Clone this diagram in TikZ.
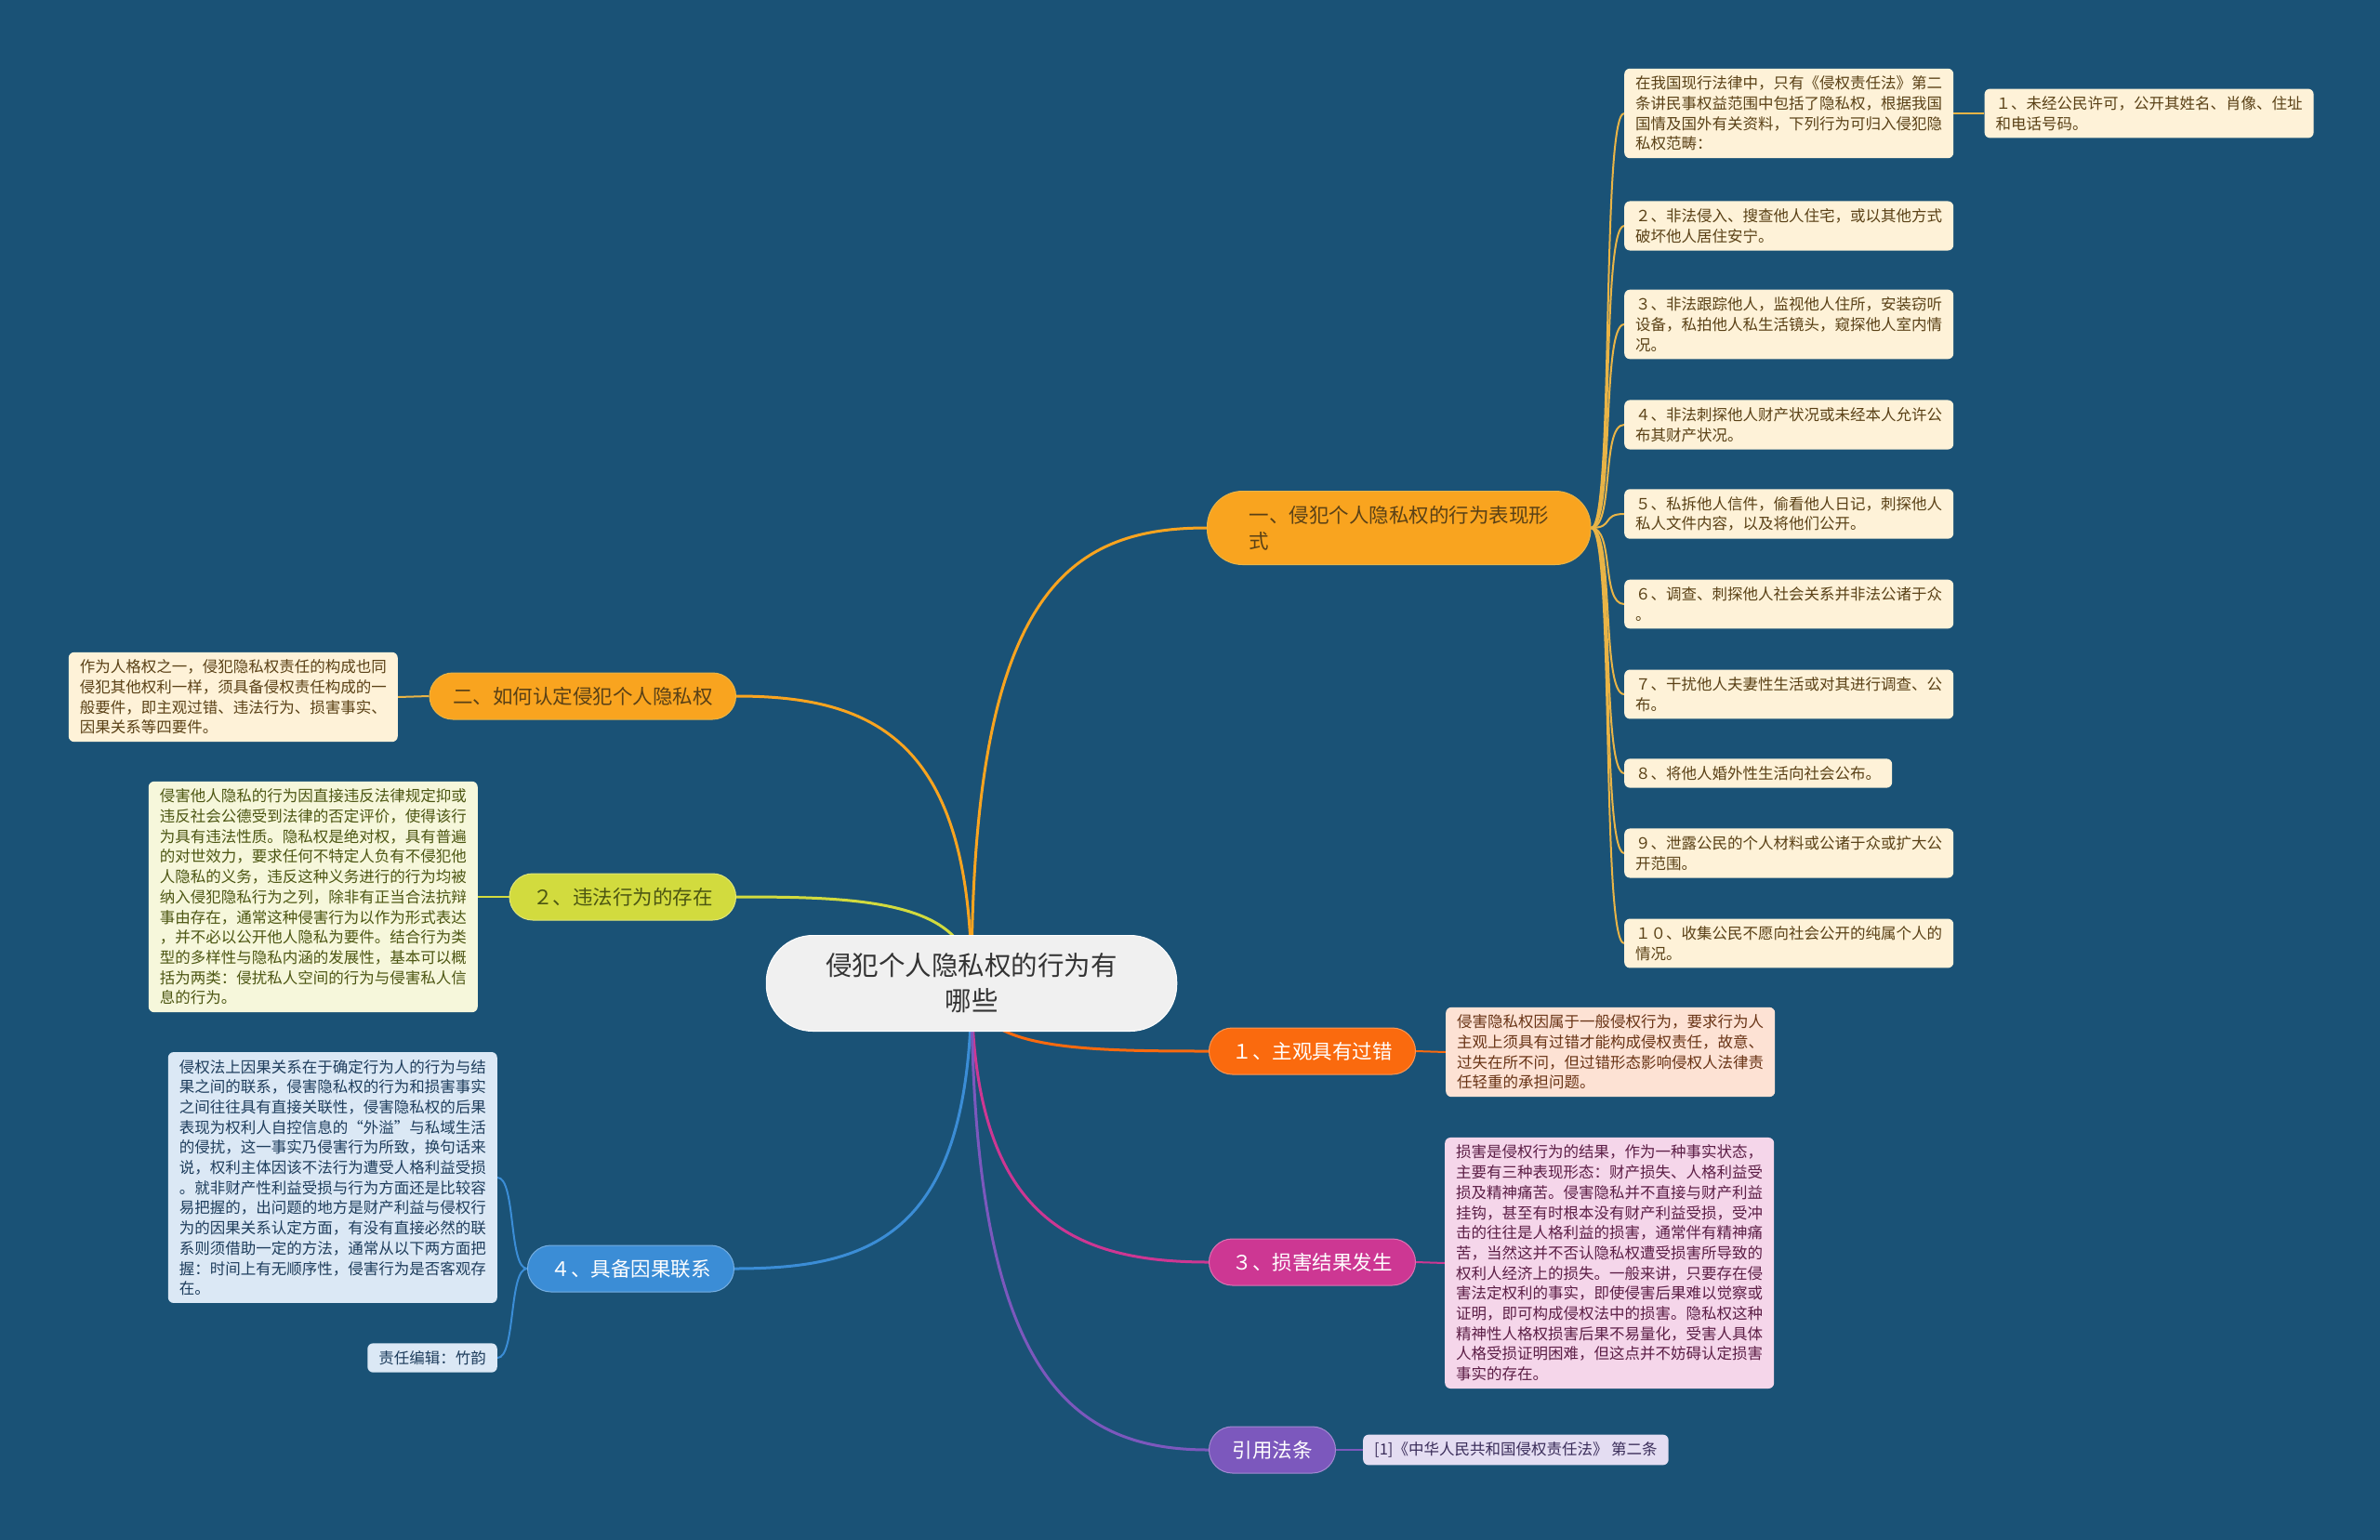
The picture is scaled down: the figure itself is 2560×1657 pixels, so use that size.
\documentclass[tikz,border=0pt]{standalone}
\usepackage{fontspec}
\setmainfont{Noto Sans CJK SC}
\usetikzlibrary{positioning, backgrounds}
\definecolor{NightBlue}{HTML}{1A5276}
\definecolor{Amber}{HTML}{F9A41F}
\definecolor{Gold}{HTML}{E9B446}
\definecolor{Lime}{HTML}{D2DB3E}
\definecolor{Azure}{HTML}{3B8DD6}
\definecolor{Flame}{HTML}{FA6A0E}
\definecolor{Berry}{HTML}{CD3793}
\definecolor{Violet}{HTML}{7C58BD}
\definecolor{Cream}{HTML}{FEF2D8}
\definecolor{Olive}{HTML}{F6F7DB}
\definecolor{Mist}{HTML}{DBE8F5}
\definecolor{Peach}{HTML}{FDE2D4}
\definecolor{Blush}{HTML}{F5D6EA}
\definecolor{Lilac}{HTML}{E4DDF2}
\definecolor{BrownText}{HTML}{5A4116}
\definecolor{OliveText}{HTML}{4C5612}
\definecolor{NavyText}{HTML}{1E3D5C}
\definecolor{RustText}{HTML}{693416}
\definecolor{PlumText}{HTML}{5C1E46}
\definecolor{InkText}{HTML}{3A2D5A}

\begin{document}
\begin{tikzpicture}[x=1pt, y=-1pt,
    rootbox/.style={rectangle, fill=black!6, draw=white, line width=1pt, rounded corners=50pt, minimum height=103pt, inner xsep=64pt, align=center, text=black!80, font=\fontsize{28.5}{38}\selectfont},
    branchbox/.style={rectangle, rounded corners=25pt, minimum height=50pt, inner xsep=25pt, line width=1pt, font=\fontsize{21.5}{28}\selectfont},
    leafbox/.style={rectangle, rounded corners=6pt, align=left, inner xsep=12pt, inner ysep=8pt, font=\fontsize{16.5}{21.7}\selectfont},
    link/.style={line width=3pt},
    twig/.style={line width=2pt}
]
\node[rootbox] (root) at (1045,1058) {侵犯个人隐私权的行为有\\哪些};

\node[branchbox, fill=Amber, draw=Gold, text=BrownText, anchor=west, align=left, minimum height=79pt, rounded corners=38pt, inner xsep=45pt] (forms) at (1298,568) {一、侵犯个人隐私权的行为表现形\\式};
\node[branchbox, fill=Amber, draw=Gold, text=BrownText, anchor=east] (identify) at (792,749) {二、如何认定侵犯个人隐私权};
\node[branchbox, fill=Lime, draw=Lime!70!white, text=OliveText, anchor=east] (illegal) at (792,965) {２、违法行为的存在};
\node[branchbox, fill=Azure, draw=Azure!70!white, text=white, anchor=east] (causal) at (790,1365) {４、具备因果联系};
\node[branchbox, fill=Flame, draw=Flame!70!white, text=white, anchor=west] (fault) at (1300,1131) {１、主观具有过错};
\node[branchbox, fill=Berry, draw=Berry!70!white, text=white, anchor=west] (damage) at (1300,1358) {３、损害结果发生};
\node[branchbox, fill=Violet, draw=Violet!70!white, text=white, anchor=west] (cite) at (1300,1560) {引用法条};

\node[leafbox, fill=Cream, text=BrownText, anchor=west] (scope) at (1747,122) {在我国现行法律中，只有《侵权责任法》第二\\条讲民事权益范围中包括了隐私权，根据我国\\国情及国外有关资料，下列行为可归入侵犯隐\\私权范畴：};
\node[leafbox, fill=Cream, text=BrownText, right=33pt of scope] (publish) {１、未经公民许可，公开其姓名、肖像、住址\\和电话号码。};
\node[leafbox, fill=Cream, text=BrownText, anchor=west] (entry) at (1747,243) {２、非法侵入、搜查他人住宅，或以其他方式\\破坏他人居住安宁。};
\node[leafbox, fill=Cream, text=BrownText, anchor=west] (trace) at (1747,349) {３、非法跟踪他人，监视他人住所，安装窃听\\设备，私拍他人私生活镜头，窥探他人室内情\\况。};
\node[leafbox, fill=Cream, text=BrownText, anchor=west] (wealth) at (1747,457) {４、非法刺探他人财产状况或未经本人允许公\\布其财产状况。};
\node[leafbox, fill=Cream, text=BrownText, anchor=west] (letter) at (1747,553) {５、私拆他人信件，偷看他人日记，刺探他人\\私人文件内容，以及将他们公开。};
\node[leafbox, fill=Cream, text=BrownText, anchor=west] (social) at (1747,650) {６、调查、刺探他人社会关系并非法公诸于众\\。};
\node[leafbox, fill=Cream, text=BrownText, anchor=west] (marital) at (1747,747) {７、干扰他人夫妻性生活或对其进行调查、公\\布。};
\node[leafbox, fill=Cream, text=BrownText, anchor=west] (affair) at (1747,832) {８、将他人婚外性生活向社会公布。};
\node[leafbox, fill=Cream, text=BrownText, anchor=west] (leak) at (1747,918) {９、泄露公民的个人材料或公诸于众或扩大公\\开范围。};
\node[leafbox, fill=Cream, text=BrownText, anchor=west] (collect) at (1747,1015) {１０、收集公民不愿向社会公开的纯属个人的\\情况。};

\node[leafbox, fill=Cream, text=BrownText, anchor=east] (elements) at (428,750) {作为人格权之一，侵犯隐私权责任的构成也同\\侵犯其他权利一样，须具备侵权责任构成的一\\般要件，即主观过错、违法行为、损害事实、\\因果关系等四要件。};
\node[leafbox, fill=Olive, text=OliveText, anchor=east] (unlawful) at (514,965) {侵害他人隐私的行为因直接违反法律规定抑或\\违反社会公德受到法律的否定评价，使得该行\\为具有违法性质。隐私权是绝对权，具有普遍\\的对世效力，要求任何不特定人负有不侵犯他\\人隐私的义务，违反这种义务进行的行为均被\\纳入侵犯隐私行为之列，除非有正当合法抗辩\\事由存在，通常这种侵害行为以作为形式表达\\，并不必以公开他人隐私为要件。结合行为类\\型的多样性与隐私内涵的发展性，基本可以概\\括为两类：侵扰私人空间的行为与侵害私人信\\息的行为。};
\node[leafbox, fill=Mist, text=NavyText, anchor=east] (linkage) at (535,1267) {侵权法上因果关系在于确定行为人的行为与结\\果之间的联系，侵害隐私权的行为和损害事实\\之间往往具有直接关联性，侵害隐私权的后果\\表现为权利人自控信息的“外溢”与私域生活\\的侵扰，这一事实乃侵害行为所致，换句话来\\说，权利主体因该不法行为遭受人格利益受损\\。就非财产性利益受损与行为方面还是比较容\\易把握的，出问题的地方是财产利益与侵权行\\为的因果关系认定方面，有没有直接必然的联\\系则须借助一定的方法，通常从以下两方面把\\握：时间上有无顺序性，侵害行为是否客观存\\在。};
\node[leafbox, fill=Mist, text=NavyText, anchor=east] (editor) at (535,1461) {责任编辑：竹韵};

\node[leafbox, fill=Peach, text=RustText, anchor=west] (blame) at (1555,1132) {侵害隐私权因属于一般侵权行为，要求行为人\\主观上须具有过错才能构成侵权责任，故意、\\过失在所不问，但过错形态影响侵权人法律责\\任轻重的承担问题。};
\node[leafbox, fill=Blush, text=PlumText, anchor=west] (harm) at (1554,1359) {损害是侵权行为的结果，作为一种事实状态，\\主要有三种表现形态：财产损失、人格利益受\\损及精神痛苦。侵害隐私并不直接与财产利益\\挂钩，甚至有时根本没有财产利益受损，受冲\\击的往往是人格利益的损害，通常伴有精神痛\\苦，当然这并不否认隐私权遭受损害所导致的\\权利人经济上的损失。一般来讲，只要存在侵\\害法定权利的事实，即使侵害后果难以觉察或\\证明，即可构成侵权法中的损害。隐私权这种\\精神性人格权损害后果不易量化，受害人具体\\人格受损证明困难，但这点并不妨碍认定损害\\事实的存在。};
\node[leafbox, fill=Lilac, text=InkText, anchor=west] (statute) at (1466,1560) {[1]《中华人民共和国侵权责任法》 第二条};

\begin{scope}[on background layer]
\fill[NightBlue] (0,0) rectangle (2560,1657);
\draw[link, Amber] (root.center) .. controls +(0,-420) and +(-150,0) .. (forms.west);
\draw[link, Amber] (root.center) .. controls +(0,-260) and +(150,0) .. (identify.east);
\draw[link, Lime] (root.center) .. controls +(0,-90) and +(130,0) .. (illegal.east);
\draw[link, Azure] (root.center) .. controls +(0,270) and +(150,0) .. (causal.east);
\draw[link, Flame] (root.center) .. controls +(0,70) and +(-150,0) .. (fault.west);
\draw[link, Berry] (root.center) .. controls +(0,250) and +(-150,0) .. (damage.west);
\draw[link, Violet] (root.center) .. controls +(0,420) and +(-150,0) .. (cite.west);
\foreach \leafname in {scope, entry, trace, wealth, letter, social, marital, affair, leak, collect}
  \draw[twig, Gold] (forms.east) .. controls +(25,0) and +(-25,0) .. (\leafname.west);
\draw[twig, Gold] (scope.east) -- (publish.west);
\draw[twig, Gold] (identify.west) -- (elements.east);
\draw[twig, Lime] (illegal.west) -- (unlawful.east);
\draw[twig, Azure] (causal.west) .. controls +(-20,0) and +(20,0) .. (linkage.east);
\draw[twig, Azure] (causal.west) .. controls +(-20,0) and +(20,0) .. (editor.east);
\draw[twig, Flame] (fault.east) -- (blame.west);
\draw[twig, Berry] (damage.east) -- (harm.west);
\draw[twig, Violet] (cite.east) -- (statute.west);
\end{scope}
\end{tikzpicture}
\end{document}
